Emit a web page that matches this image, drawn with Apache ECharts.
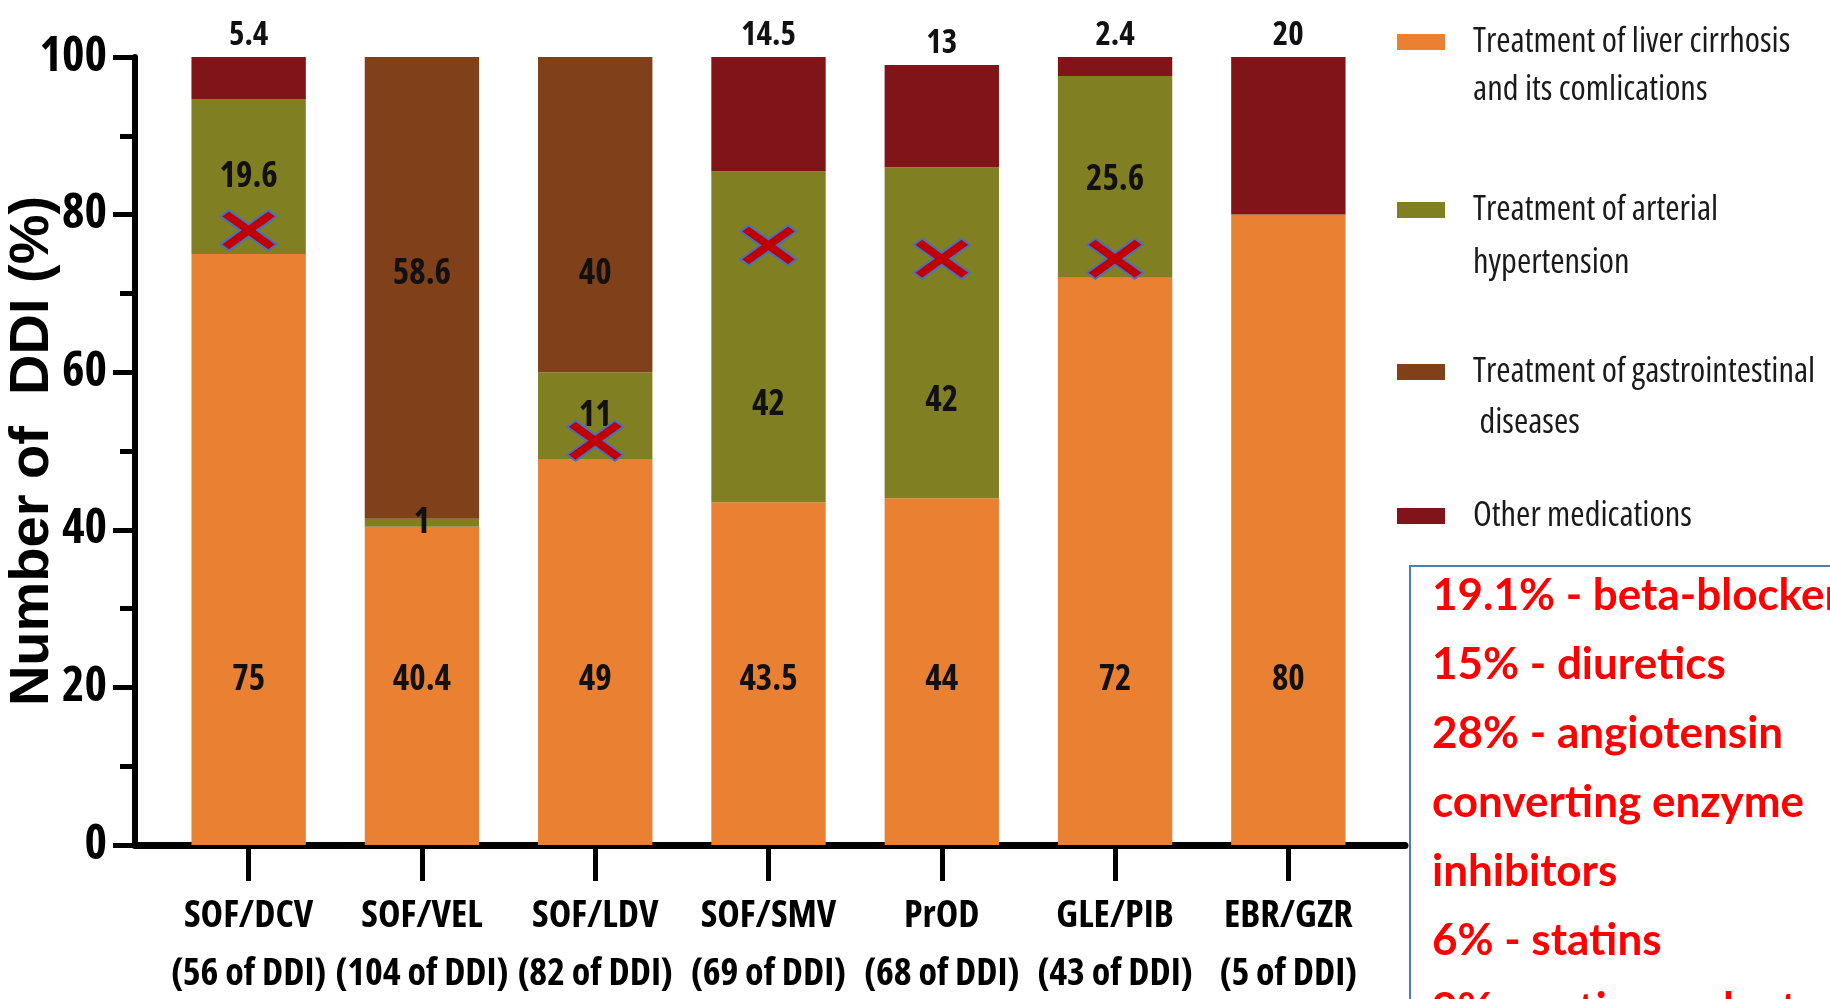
<!DOCTYPE html>
<html>
<head>
<meta charset="utf-8">
<script src="https://cdn.jsdelivr.net/npm/echarts@6/dist/echarts.min.js"></script>
<style>
  html, body { margin: 0; padding: 0; background: #ffffff; }
  #chart { width: 1830px; height: 999px; }
</style>
</head>
<body>
<div id="chart"></div>
<script>
// DAA regimens and the number of drug-drug interactions found for each
const regimens = ['SOF/DCV', 'SOF/VEL', 'SOF/LDV', 'SOF/SMV', 'PrOD', 'GLE/PIB', 'EBR/GZR'];
const ddiCounts = [56, 104, 82, 69, 68, 43, 5];

// Share of interactions (%) by co-medication group
const liverCirrhosis       = [75, 40.4, 49, 43.5, 44, 72, 80];
const arterialHypertension = [19.6, 1, 11, 42, 42, 25.6, null];
const gastrointestinal     = [null, 58.6, 40, null, null, null, null];
const otherMedications     = [5.4, null, null, 14.5, 13, 2.4, 20];

// Cross markers placed on the bars (value axis position, '-' = none)
const crossMarks = [78, '-', 51.3, 76.1, 74.4, 74.4, '-'];

const seriesNames = [
  'Treatment of liver cirrhosis and its comlications',
  'Treatment of arterial hypertension',
  'Treatment of gastrointestinal diseases',
  'Other medications'
];
// legend text, one entry per line
const legendLines = [
  ['Treatment of liver cirrhosis', 'and its comlications'],
  ['Treatment of arterial', 'hypertension'],
  ['Treatment of gastrointestinal', ' diseases'],
  ['Other medications']
];
const seriesColors = ['#e98032', '#807f22', '#80401a', '#811419'];

// Breakdown of antihypertensive co-medications
const noteLines = [
  '19.1% - beta-blockers',
  '15% - diuretics',
  '28% - angiotensin',
  'converting enzyme',
  'inhibitors',
  '6% - statins',
  '9% - anticoagulants'
];

const SANS = "'Liberation Sans', Arial, sans-serif";
const COND = "'Open Sans', sans-serif";   // used with the condensed width

const valueLabel = {
  show: true,
  color: '#111111',
  fontStyle: 'condensed',
  fontFamily: COND,
  fontWeight: 'bold',
  fontSize: 35,
  formatter: '{c}'
};

function barSeries(name, values, color, label, dataBuilder) {
  return {
    name: name,
    type: 'bar',
    stack: 'total',
    barCategoryGap: '34%',
    xAxisIndex: 0,
    yAxisIndex: 0,
    itemStyle: { color: color },
    label: Object.assign({}, valueLabel, label),
    data: dataBuilder ? values.map(dataBuilder) : values
  };
}

// one legend block per series: icon level with the first text line
const legendSpec = [
  { top: 42,  lineHeight: 48 },
  { top: 210, lineHeight: 53 },
  { top: 372, lineHeight: 51 },
  { top: 516, lineHeight: 49 }
];
const legends = seriesNames.map((name, i) => {
  const lines = legendLines[i];
  const lh = legendSpec[i].lineHeight;
  const shown = lines.length > 1 ? [' '].concat(lines) : lines;
  const blockH = shown.length * lh;
  return {
    orient: 'vertical',
    left: 1397,
    top: legendSpec[i].top - blockH / 2,
    padding: 0,
    itemWidth: 48,
    itemHeight: 16,
    icon: 'rect',
    selectedMode: false,
    data: [name],
    formatter: () => shown.join('\n'),
    textStyle: {
      color: '#1a1a1a',
      fontStyle: 'condensed',
      fontFamily: COND,
      fontSize: 34.5,
      lineHeight: lh,
      padding: [0, 0, 0, 23]
    }
  };
});

const chart = echarts.init(document.getElementById('chart'), null, { renderer: 'canvas' });

chart.setOption({
  animation: false,
  backgroundColor: '#ffffff',
  grid: [
    { left: 162, right: 455, top: 57, bottom: 154, outerBoundsMode: 'none', containLabel: false },
    { left: 135, right: 425, top: 57, bottom: 154, outerBoundsMode: 'none', containLabel: false }
  ],
  xAxis: [
    {
      type: 'category',
      gridIndex: 0,
      data: regimens,
      axisLine: { show: false },
      axisTick: { show: true, alignWithLabel: true, length: 36, lineStyle: { color: '#000', width: 5 } },
      axisLabel: {
        interval: 0,
        margin: 42,
        color: '#000',
        fontStyle: 'condensed',
        fontFamily: COND,
        fontWeight: 'bold',
        fontSize: 38,
        lineHeight: 58,
        formatter: (v, i) => v + '\n(' + ddiCounts[i] + ' of DDI)'
      }
    },
    {
      // baseline running the full width under the bars
      type: 'category',
      gridIndex: 1,
      data: [''],
      axisLine: { show: true, lineStyle: { color: '#000', width: 7 } },
      axisTick: { show: false },
      axisLabel: { show: false }
    }
  ],
  yAxis: [
    {
      type: 'value',
      gridIndex: 0,
      min: 0,
      max: 100,
      interval: 20,
      offset: 27,
      axisLine: { show: true, lineStyle: { color: '#000', width: 6 } },
      axisTick: { show: true, length: 22, lineStyle: { color: '#000', width: 5 } },
      minorTick: { show: true, splitNumber: 2, length: 15, lineStyle: { color: '#000', width: 5 } },
      splitLine: { show: false },
      axisLabel: {
        color: '#000', fontStyle: 'condensed', fontFamily: COND, fontWeight: 'bold', fontSize: 48, margin: 28
      },
      name: 'Number of  DDI (%)',
      nameLocation: 'middle',
      nameGap: 74,
      nameMoveOverlap: false,
      nameTextStyle: { color: '#000', fontFamily: SANS, fontWeight: 'bold', fontSize: 56 }
    },
    { type: 'value', gridIndex: 1, min: 0, max: 100, show: false }
  ],
  legend: legends,
  title: {
    text: noteLines.join('\n'),
    left: 1432,
    top: 561,
    padding: 0,
    textStyle: { color: '#ff0000', fontFamily: 'Lato', fontWeight: 'bold', fontSize: 44, lineHeight: 69 }
  },
  graphic: [
    {
      type: 'rect',
      shape: { x: 1410, y: 566, width: 460, height: 480 },
      style: { fill: 'none', stroke: '#4a7ebb', lineWidth: 2 },
      silent: true
    }
  ],
  series: [
    barSeries(seriesNames[0], liverCirrhosis, seriesColors[0], { position: 'insideBottom', distance: 147 }),
    barSeries(seriesNames[1], arterialHypertension, seriesColors[1], { position: 'inside' },
      v => (v != null && v > 25)
        ? { value: v, label: { position: 'insideBottom', distance: 80 } }
        : v),
    barSeries(seriesNames[2], gastrointestinal, seriesColors[2], { position: 'insideTop', distance: 200 }),
    barSeries(seriesNames[3], otherMedications, seriesColors[3], { position: 'top', distance: 5, fontSize: 33 }),
    {
      name: 'marks',
      type: 'scatter',
      xAxisIndex: 0,
      yAxisIndex: 0,
      z: 10,
      symbol: 'path://M0,15 L15,0 L50,35 L85,0 L100,15 L65,50 L100,85 L85,100 L50,65 L15,100 L0,85 L35,50 Z',
      symbolSize: [56, 40],
      itemStyle: { color: '#c00000', borderColor: '#4472c4', borderWidth: 2, opacity: 1 },
      data: crossMarks
    }
  ]
});
</script>
</body>
</html>
